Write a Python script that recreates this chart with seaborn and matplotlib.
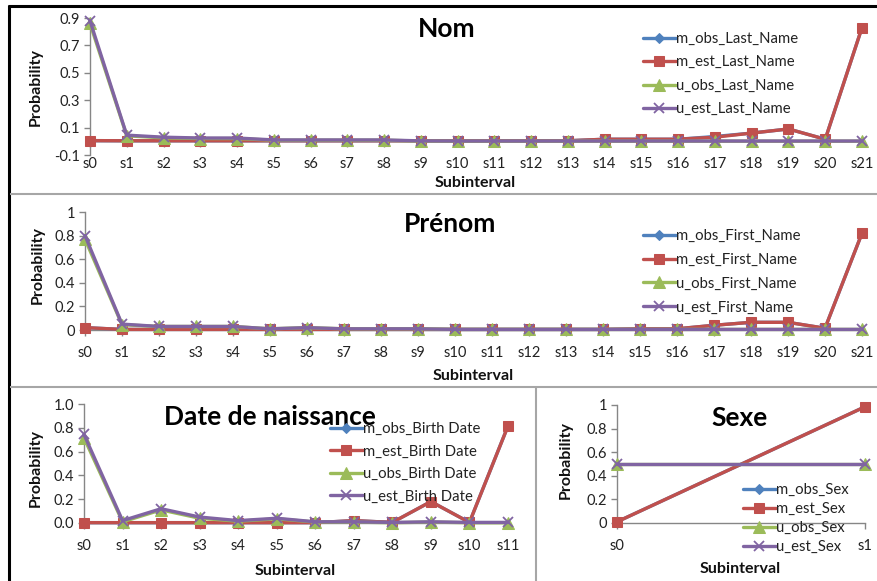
import matplotlib
matplotlib.use("Agg")
import matplotlib.pyplot as plt
import seaborn as sns
import pandas as pd
from matplotlib.lines import Line2D

# ---------------- data ----------------
subintervals_22 = ["s0", "s1", "s2", "s3", "s4", "s5", "s6", "s7", "s8", "s9", "s10",
                   "s11", "s12", "s13", "s14", "s15", "s16", "s17", "s18", "s19", "s20", "s21"]
subintervals_12 = ["s0", "s1", "s2", "s3", "s4", "s5", "s6", "s7", "s8", "s9", "s10", "s11"]
subintervals_2 = ["s0", "s1"]

m_obs_last = [0.005, 0.004, 0.004, 0.004, 0.004, 0.004, 0.004, 0.004, 0.004, 0.004, 0.004,
              0.004, 0.004, 0.004, 0.015, 0.015, 0.015, 0.035, 0.06, 0.09, 0.015, 0.83]
m_est_last = [0.005, 0.004, 0.004, 0.004, 0.004, 0.004, 0.004, 0.004, 0.004, 0.004, 0.004,
              0.004, 0.004, 0.004, 0.015, 0.015, 0.015, 0.03, 0.06, 0.09, 0.015, 0.83]
u_obs_last = [0.86, 0.04, 0.025, 0.02, 0.02, 0.008, 0.008, 0.008, 0.008, 0.002, 0.001,
              0.001, 0.001, 0.001, 0.001, 0.001, 0.001, 0.001, 0.001, 0.001, 0.001, 0.001]
u_est_last = [0.88, 0.045, 0.03, 0.024, 0.024, 0.01, 0.01, 0.01, 0.01, 0.003, 0.002,
              0.002, 0.002, 0.002, 0.002, 0.002, 0.002, 0.002, 0.002, 0.002, 0.002, 0.002]

m_obs_first = [0.02, 0.005, 0.005, 0.005, 0.005, 0.005, 0.005, 0.005, 0.005, 0.005, 0.005,
               0.005, 0.005, 0.005, 0.005, 0.01, 0.01, 0.04, 0.065, 0.065, 0.015, 0.82]
m_est_first = [0.02, 0.005, 0.005, 0.005, 0.005, 0.005, 0.005, 0.005, 0.005, 0.005, 0.005,
               0.005, 0.005, 0.005, 0.005, 0.01, 0.01, 0.04, 0.065, 0.065, 0.015, 0.82]
u_obs_first = [0.77, 0.045, 0.03, 0.03, 0.03, 0.01, 0.02, 0.01, 0.01, 0.01, 0.005,
               0.005, 0.005, 0.005, 0.005, 0.005, 0.005, 0.005, 0.005, 0.005, 0.005, 0.005]
u_est_first = [0.80, 0.05, 0.03, 0.03, 0.03, 0.01, 0.02, 0.01, 0.01, 0.01, 0.005,
               0.005, 0.005, 0.005, 0.005, 0.005, 0.005, 0.005, 0.005, 0.005, 0.005, 0.005]

m_obs_birth = [0.003, 0.003, 0.003, 0.003, 0.003, 0.003, 0.003, 0.02, 0.005, 0.18, 0.005, 0.815]
m_est_birth = [0.003, 0.003, 0.003, 0.003, 0.003, 0.003, 0.003, 0.02, 0.005, 0.18, 0.005, 0.815]
u_obs_birth = [0.716, 0.01, 0.11, 0.04, 0.015, 0.035, 0.008, 0.008, 0.002, 0.008, 0.002, 0.002]
u_est_birth = [0.744, 0.02, 0.12, 0.05, 0.02, 0.04, 0.01, 0.01, 0.005, 0.01, 0.005, 0.005]

m_obs_sex = [0.01, 0.985]
m_est_sex = [0.01, 0.985]
u_obs_sex = [0.5, 0.5]
u_est_sex = [0.5, 0.5]

# ---------------- style ----------------
sns.set_theme(style="white")
plt.rcParams["font.family"] = ["Lato", "DejaVu Sans"]

BLUE, RED, GREEN, PURPLE = "#4F81BD", "#C0504D", "#9BBB59", "#8064A2"
AXIS_GREY = "#868686"
W, H = 877, 581

series_style = [
    dict(color=BLUE, marker="D", markersize=5),
    dict(color=RED, marker="s", markersize=7),
    dict(color=GREEN, marker="^", markersize=8),
    dict(color=PURPLE, marker="x", markersize=7, markeredgewidth=1.3),
]

fig = plt.figure(figsize=(W / 100, H / 100), dpi=100)


def make_axes(x0, x1, y_top, y_bot):
    """Axes whose data area spans the given pixel box."""
    return fig.add_axes([x0 / W, 1 - y_bot / H, (x1 - x0) / W, (y_bot - y_top) / H])


def to_axes(box, px, py):
    x0, x1, y_top, y_bot = box
    return (px - x0) / (x1 - x0), (y_bot - py) / (y_bot - y_top)


def draw_panel(box, labels, series, names, title, title_xy, yticks, ytick_labels,
               ylim, ylabel_xy, xlabel_xy, legend_xy, legend_spacing):
    ax = make_axes(*box)
    df = pd.DataFrame({"Subinterval": list(range(len(labels)))})
    for vals, name, st in zip(series, names, series_style):
        df[name] = vals
        sns.lineplot(data=df, x="Subinterval", y=name, ax=ax, label=name,
                     linewidth=2.4, markeredgecolor=st["color"], clip_on=False,
                     zorder=3, **st)
    ax.set_xlim(0, len(labels) - 1)
    ax.set_ylim(*ylim)
    ax.set_xticks(range(len(labels)))
    ax.set_xticklabels(labels)
    ax.set_yticks(yticks)
    ax.set_yticklabels(ytick_labels)

    for side in ("top", "right"):
        ax.spines[side].set_visible(False)
    ax.spines["left"].set_color(AXIS_GREY)
    ax.spines["bottom"].set_color(AXIS_GREY)
    ax.spines["bottom"].set_position(("data", 0))
    ax.spines["left"].set_linewidth(1.0)
    ax.spines["bottom"].set_linewidth(1.0)
    ax.tick_params(axis="y", direction="out", length=4, width=1, color=AXIS_GREY,
                   labelsize=10.5, labelcolor="#222222", pad=3, left=True)
    ax.tick_params(axis="x", direction="out", length=4, width=1, color=AXIS_GREY,
                   labelsize=10.5, labelcolor="#222222", pad=7.5, bottom=True)
    ax.patch.set_alpha(0)

    # label coordinates: ylabel anchored on its right edge, xlabel on its top edge
    ax.set_ylabel("Probability", fontsize=11.5, fontweight="bold", color="#111111")
    ax.yaxis.set_label_coords(*to_axes(box, ylabel_xy[0] + 8, ylabel_xy[1]))
    ax.set_xlabel("Subinterval", fontsize=11.5, fontweight="bold", color="#111111")
    ax.xaxis.set_label_coords(*to_axes(box, xlabel_xy[0], xlabel_xy[1] - 8))

    tx, ty = to_axes(box, *title_xy)
    ax.text(tx, ty, title, transform=ax.transAxes, ha="center", va="center",
            fontsize=19, fontweight="bold", color="black", zorder=1)

    leg = ax.legend(loc="upper left", bbox_to_anchor=(legend_xy[0] / W, 1 - legend_xy[1] / H),
                    bbox_transform=fig.transFigure, frameon=False, fontsize=10.7,
                    handlelength=2.2, handletextpad=0.05, labelspacing=legend_spacing,
                    borderpad=0, borderaxespad=0)
    for t in leg.get_texts():
        t.set_color("#222222")
    leg.set_zorder(5)
    return ax


# Nom (last name)
draw_panel((90, 862, 18, 155), subintervals_22,
           [m_obs_last, m_est_last, u_obs_last, u_est_last],
           ["m_obs_Last_Name", "m_est_Last_Name", "u_obs_Last_Name", "u_est_Last_Name"],
           "Nom", (447, 29), [-0.1, 0.1, 0.3, 0.5, 0.7, 0.9],
           ["-0.1", "0.1", "0.3", "0.5", "0.7", "0.9"], (-0.1, 0.9),
           (35, 87), (475, 184), (643, 32), 0.63)

# Prénom (first name)
draw_panel((85, 862, 212, 330), subintervals_22,
           [m_obs_first, m_est_first, u_obs_first, u_est_first],
           ["m_obs_First_Name", "m_est_First_Name", "u_obs_First_Name", "u_est_First_Name"],
           "Prénom", (450, 224), [0, 0.2, 0.4, 0.6, 0.8, 1.0],
           ["0", "0.2", "0.4", "0.6", "0.8", "1"], (0, 1.0),
           (37, 265), (473, 377), (643, 229), 0.66)

# Date de naissance (birth date)
draw_panel((84, 508, 404, 523), subintervals_12,
           [m_obs_birth, m_est_birth, u_obs_birth, u_est_birth],
           ["m_obs_Birth Date", "m_est_Birth Date", "u_obs_Birth Date", "u_est_Birth Date"],
           "Date de naissance", (270, 417), [0, 0.2, 0.4, 0.6, 0.8, 1.0],
           ["0.0", "0.2", "0.4", "0.6", "0.8", "1.0"], (0, 1.0),
           (35, 468), (295, 572), (330, 422), 0.57)

# Sexe
draw_panel((617, 865, 405, 523), subintervals_2,
           [m_obs_sex, m_est_sex, u_obs_sex, u_est_sex],
           ["m_obs_Sex", "m_est_Sex", "u_obs_Sex", "u_est_Sex"],
           "Sexe", (740, 418), [0, 0.2, 0.4, 0.6, 0.8, 1.0],
           ["0", "0.2", "0.4", "0.6", "0.8", "1"], (0, 1.0),
           (565, 460), (740, 570), (743, 483), 0.33)

# panel frames
def fig_line(xs, ys, color, lw):
    fig.add_artist(Line2D([x / W for x in xs], [1 - y / H for y in ys],
                          transform=fig.transFigure, color=color, linewidth=lw,
                          solid_capstyle="butt"))

fig_line([9, 9], [5, 581], "black", 2.2)
fig_line([8, 877], [6, 6], "black", 2.2)
fig_line([10, 877], [194, 194], "#a6a6a6", 1.5)
fig_line([10, 877], [387, 387], "#a6a6a6", 1.5)
fig_line([536, 536], [387, 581], "#a6a6a6", 1.5)

fig.savefig("out.png", dpi=100)
